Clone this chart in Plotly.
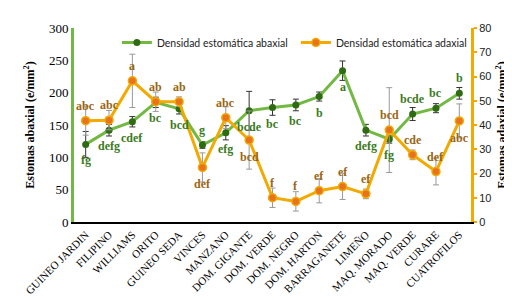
import plotly.graph_objects as go

categories = ["GUINEO JARDIN", "FILIPINO", "WILLIAMS", "ORITO", "GUINEO SEDA", "VINCES",
              "MANZANO", "DOM. GIGANTE", "DOM. VERDE", "DOM. NEGRO", "DOM. HARTON",
              "BARRAGANETE", "LIMEÑO", "MAQ. MORADO", "MAQ. VERDE", "CURARE", "CUATROFILOS"]

abaxial = [120, 142, 155, 185, 175, 119, 138, 172, 177, 181, 194, 234, 142, 128, 167, 176, 199]
abaxial_err = [20, 9, 8, 8, 8, 5, 11, 30, 12, 9, 7, 15, 9, 6, 10, 7, 9]
abaxial_letters = ["fg", "defg", "cdef", "bc", "bcd", "g", "efg", "bcde", "bc", "bc", "b",
                   "a", "defg", "fg", "bcde", "bc", "b"]
abaxial_above = [False, False, False, False, False, True, False, False, False, False, False,
                 False, False, False, True, True, True]

adaxial = [41.8, 42.0, 58.2, 49.6, 49.6, 22.5, 43.0, 33.8, 10.0, 8.5, 12.9, 14.6, 11.6,
           37.9, 27.7, 20.8, 41.7]
adaxial_err = [6, 4, 11, 4, 2, 6, 4.5, 12, 4, 4, 5, 5.3, 2, 17.5, 2, 5.5, 7]
adaxial_letters = ["abc", "abc", "a", "ab", "ab", "def", "abc", "bcd", "f", "f", "ef", "ef",
                   "ef", "bcd", "cde", "def", "abc"]
adaxial_above = [True, True, True, True, True, False, True, False, True, True, True, True,
                 True, True, True, True, False]

GREEN_LINE = "#72b843"
GREEN_DOT = "#2e6b12"
GREEN_TXT = "#3b7a1c"
ORANGE_LINE = "#f2a900"
ORANGE_DOT = "#e8731c"
ORANGE_TXT = "#9a6512"

fig = go.Figure()
fig.add_trace(go.Scatter(
    x=categories, y=abaxial, name="Densidad estomática abaxial", mode="lines+markers",
    line=dict(color=GREEN_LINE, width=3),
    marker=dict(color=GREEN_DOT, size=7),
    error_y=dict(type="data", array=abaxial_err, color="#333333", thickness=1, width=3),
    yaxis="y"))
fig.add_trace(go.Scatter(
    x=categories, y=adaxial, name="Densidad estomática adaxial", mode="lines+markers",
    line=dict(color=ORANGE_LINE, width=3),
    marker=dict(color=ORANGE_DOT, size=8, line=dict(color=ORANGE_LINE, width=1.5)),
    error_y=dict(type="data", array=adaxial_err, color="#999999", thickness=1, width=3),
    yaxis="y2"))

annotations = []
for c, v, t, up in zip(categories, abaxial, abaxial_letters, abaxial_above):
    annotations.append(dict(x=c, y=v, xref="x", yref="y", text="<b>" + t + "</b>",
                            showarrow=False, yshift=15 if up else -16,
                            font=dict(family="Liberation Serif", size=12, color=GREEN_TXT)))
for c, v, t, up in zip(categories, adaxial, adaxial_letters, adaxial_above):
    annotations.append(dict(x=c, y=v, xref="x", yref="y2", text="<b>" + t + "</b>",
                            showarrow=False, yshift=15 if up else -17,
                            font=dict(family="Liberation Serif", size=12, color=ORANGE_TXT)))

fig.update_layout(
    width=512, height=300,
    margin=dict(l=66, r=34, t=20, b=84),
    plot_bgcolor="white", paper_bgcolor="white",
    showlegend=True,
    legend=dict(orientation="h", x=0.108, y=1.0, xanchor="left", yanchor="top",
                bgcolor="rgba(0,0,0,0)", font=dict(family="Lato", size=10.5, color="#222"),
                entrywidth=134, entrywidthmode="pixels"),
    annotations=annotations,
    xaxis=dict(type="category", range=[-0.5, 16.5], showline=True, linecolor="black",
               linewidth=2, showgrid=False, ticks="", tickangle=-45,
               tickfont=dict(family="Liberation Serif", size=11, color="black")),
    yaxis=dict(range=[0, 300], dtick=50, showgrid=False, zeroline=False, showline=True,
               linecolor=GREEN_LINE, linewidth=3, ticks="",
               tickfont=dict(family="Liberation Serif", size=13, color="black"),
               title=dict(text="<b>Estomas abaxial (e/mm<sup>2</sup>)</b>", standoff=12,
                          font=dict(family="Liberation Serif", size=12, color="black"))),
    yaxis2=dict(range=[0, 80], dtick=10, overlaying="y", side="right", showgrid=False,
                zeroline=False, showline=True, linecolor=ORANGE_LINE, linewidth=3,
                ticks="outside", ticklen=3, tickwidth=2, tickcolor=ORANGE_LINE,
                tickfont=dict(family="Liberation Sans", size=11, color="#222"),
                title=dict(text="<b>Estomas adaxial (e/mm<sup>2</sup>)</b>", standoff=8,
                           font=dict(family="Liberation Serif", size=12, color="black"))),
)

fig.write_html("out.html")
